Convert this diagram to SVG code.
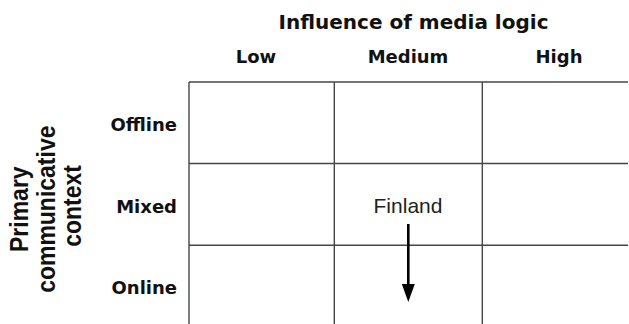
<svg xmlns="http://www.w3.org/2000/svg" width="629" height="324" viewBox="0 0 629 324">
  <style>
    .grid { stroke: #464646; stroke-width: 1.4; fill: none; }
    .lbl { font-family: "DejaVu Sans", "Liberation Sans", sans-serif; font-weight: bold; fill: #111; }
    .axis { font-family: "Liberation Sans", Arial, sans-serif; font-weight: bold; fill: #111; }
    .note { font-family: "Liberation Sans", Arial, sans-serif; fill: #222; }
  </style>
  <defs>
    <marker id="arrowhead" markerUnits="userSpaceOnUse" markerWidth="19" markerHeight="14" refX="1" refY="7" orient="auto" viewBox="0 0 19 14">
      <path d="M0,0.5 L18,7 L0,13.5 Z" fill="#000"/>
    </marker>
  </defs>
  <rect width="629" height="324" fill="#fff"/>

  <g id="grid" class="grid">
    <line x1="189" y1="82" x2="628" y2="82"/>
    <line x1="189" y1="163.5" x2="628" y2="163.5"/>
    <line x1="189" y1="245.3" x2="628" y2="245.3"/>
    <line x1="189" y1="82" x2="189" y2="324"/>
    <line x1="334.3" y1="82" x2="334.3" y2="324"/>
    <line x1="482.3" y1="82" x2="482.3" y2="324"/>
  </g>

  <g id="title">
    <text class="lbl" x="413.5" y="29" font-size="20" text-anchor="middle">Influence of media logic</text>
  </g>

  <g id="columns" class="lbl" font-size="18" text-anchor="middle">
    <text id="col-low" x="256" y="63">Low</text>
    <text id="col-medium" x="408" y="63">Medium</text>
    <text id="col-high" x="559" y="63">High</text>
  </g>

  <g id="rows" class="lbl" font-size="18" text-anchor="end">
    <text id="row-offline" x="177" y="131">Offline</text>
    <text id="row-mixed" x="177" y="212.5">Mixed</text>
    <text id="row-online" x="177" y="294">Online</text>
  </g>

  <g id="row-axis">
    <text class="axis" font-size="23" text-anchor="middle" transform="translate(0,206) rotate(-90) scale(1,1.1)">
      <tspan x="0" y="25.7">Primary</tspan>
      <tspan x="0" y="50">communicative</tspan>
      <tspan x="0" y="73.6">context</tspan>
    </text>
  </g>

  <g id="node-finland">
    <text class="note" x="408" y="213" font-size="21" text-anchor="middle">Finland</text>
  </g>

  <g id="connectors">
    <line x1="408.3" y1="224" x2="408.3" y2="285" stroke="#000" stroke-width="2.6" marker-end="url(#arrowhead)"/>
  </g>
</svg>
